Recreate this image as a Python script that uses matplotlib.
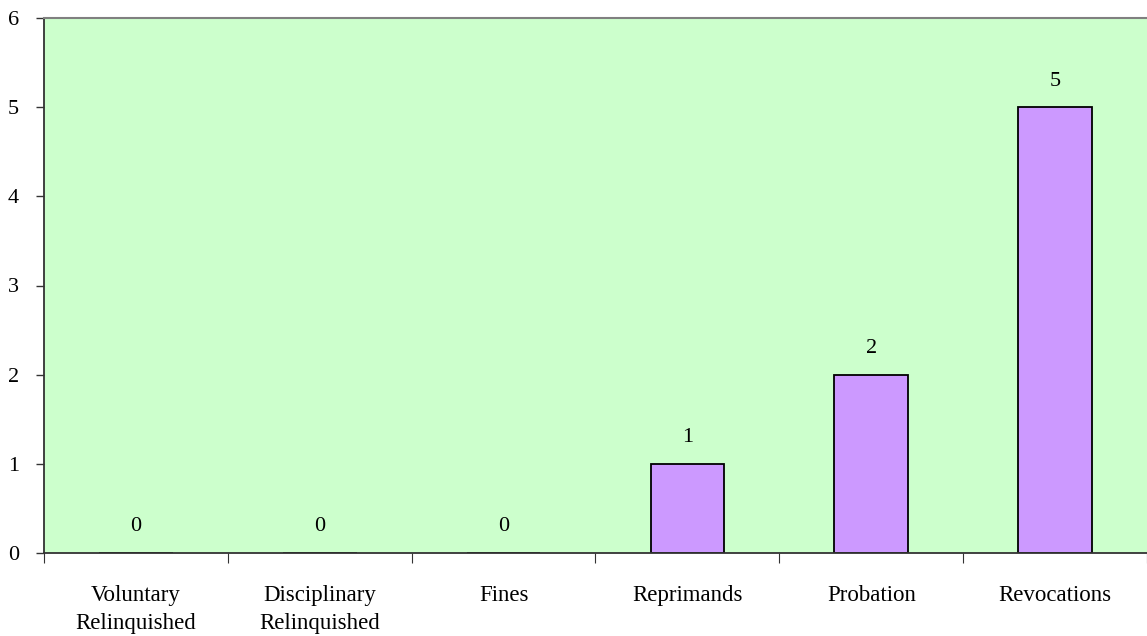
import numpy as np
import matplotlib.pyplot as plt

categories = ['Voluntary\nRelinquished', 'Disciplinary\nRelinquished', 'Fines',
              'Reprimands', 'Probation', 'Revocations']
counts = [0, 0, 0, 1, 2, 5]

plt.rcParams['font.family'] = 'serif'
plt.rcParams['font.serif'] = ['Liberation Serif', 'DejaVu Serif']

fig = plt.figure(figsize=(11.47, 6.36), dpi=100)
ax = fig.add_axes([44 / 1147, 1 - 553 / 636, 1 - 44 / 1147, (553 - 18) / 636])
ax.set_facecolor('#CCFFCC')

x = np.arange(len(categories))
bars = ax.bar(x, counts, width=0.4, color='#CC99FF', edgecolor='black', linewidth=1.3, zorder=2)

for xi, v in zip(x, counts):
    ax.annotate(str(v), (xi, v), xytext=(0, 12), textcoords='offset points',
                ha='center', va='bottom', fontsize=16)

ax.set_xlim(-0.5, len(categories) - 0.5)
ax.set_ylim(0, 6)
ax.set_yticks(range(0, 7))
ax.tick_params(axis='y', labelsize=16, length=6, pad=12, direction='out', width=1, color='#333333')

# category labels between boundary ticks
ax.set_xticks(np.arange(-0.5, len(categories), 1.0))
ax.set_xticklabels([])
ax.set_xticks(x, minor=True)
ax.set_xticklabels(categories, minor=True, fontsize=16.5, linespacing=1.45)
ax.tick_params(axis='x', which='major', length=7, direction='out', color='#333333')
ax.tick_params(axis='x', which='minor', length=0, pad=23)

ax.spines['top'].set_color('#808080')
ax.spines['top'].set_linewidth(1.5)
ax.spines['right'].set_visible(False)
ax.spines['left'].set_color('#333333')
ax.spines['bottom'].set_color('#333333')
ax.spines['left'].set_linewidth(1.3)
ax.spines['bottom'].set_linewidth(1.3)
for s in ax.spines.values():
    s.set_zorder(3)

fig.savefig('out.png', dpi=100)
